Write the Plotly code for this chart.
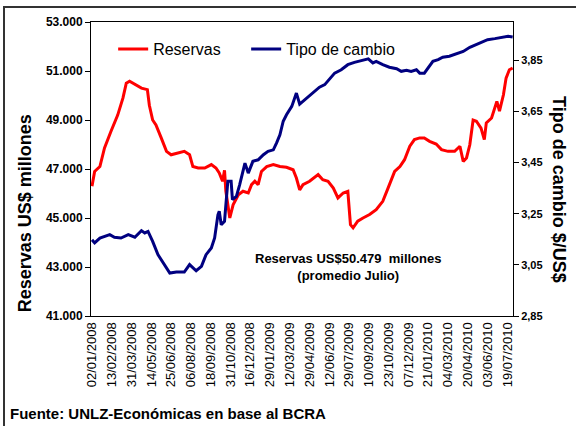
import plotly.graph_objects as go

# Etiquetas del eje de categorías (una cada 30 días hábiles)
fechas_eje = ["02/01/2008", "13/02/2008", "31/03/2008", "14/05/2008", "25/06/2008",
              "06/08/2008", "18/09/2008", "31/10/2008", "16/12/2008", "29/01/2009",
              "12/03/2009", "29/04/2009", "12/06/2009", "29/07/2009", "10/09/2009",
              "23/10/2009", "07/12/2009", "21/01/2010", "04/03/2010", "20/04/2010",
              "03/06/2010", "19/07/2010"]
dias_por_etiqueta = 30

# (día hábil, reservas en millones de US$)
reservas = [
    (0, 46300), (4, 46900), (12, 47100), (19, 47860), (29, 48550), (39, 49200),
    (47, 49900), (52, 50500), (57, 50580), (67, 50440), (75, 50300), (84, 50240),
    (87, 49600), (92, 49000), (97, 48800), (105, 48270), (113, 47720), (120, 47580),
    (130, 47650), (140, 47720), (148, 47580), (153, 47100), (161, 47040), (171, 47040),
    (181, 47180), (188, 47040), (193, 46840), (198, 46500), (201, 46950), (203, 46100),
    (209, 45000), (214, 45540), (222, 45950), (229, 46090), (237, 46020), (242, 46360),
    (247, 46500), (252, 46360), (257, 46900), (265, 47100), (275, 47180), (285, 47100),
    (295, 47070), (305, 46970), (310, 46630), (315, 46150), (320, 46360), (330, 46500),
    (343, 46770), (350, 46560), (358, 46500), (366, 46220), (373, 45820), (381, 46020),
    (388, 46090), (392, 44730), (396, 44600), (403, 44870), (411, 45000), (421, 45140),
    (431, 45340), (441, 45680), (449, 46220), (459, 46900), (467, 47100), (474, 47380),
    (482, 47930), (489, 48200), (497, 48270), (504, 48270), (512, 48130), (522, 48020),
    (530, 47790), (540, 47720), (550, 47720), (558, 47930), (563, 47310), (568, 47450),
    (573, 47990), (578, 49000), (583, 48950), (590, 48670), (595, 48200), (598, 48880),
    (606, 49080), (611, 49560), (614, 49760), (618, 49360), (624, 50030), (628, 50710),
    (633, 51050), (638, 51120),
]

# (día hábil, tipo de cambio $/US$)
tipo_cambio = [
    (0, 3.148), (4, 3.136), (12, 3.155), (19, 3.162), (27, 3.168), (34, 3.158),
    (44, 3.155), (55, 3.168), (65, 3.158), (75, 3.184), (80, 3.175), (85, 3.181),
    (92, 3.142), (100, 3.090), (108, 3.057), (118, 3.018), (128, 3.022), (140, 3.022),
    (148, 3.051), (158, 3.027), (166, 3.044), (173, 3.090), (181, 3.116), (186, 3.155),
    (191, 3.246), (193, 3.260), (196, 3.207), (201, 3.220), (206, 3.377), (211, 3.377),
    (213, 3.305), (219, 3.318), (224, 3.364), (232, 3.448), (237, 3.409), (244, 3.455),
    (252, 3.461), (260, 3.481), (267, 3.494), (275, 3.500), (280, 3.527), (285, 3.559),
    (290, 3.612), (295, 3.637), (303, 3.670), (308, 3.709), (310, 3.722), (315, 3.679),
    (323, 3.696), (330, 3.713), (338, 3.729), (345, 3.745), (353, 3.755), (361, 3.781),
    (368, 3.800), (378, 3.813), (388, 3.833), (398, 3.842), (409, 3.850), (419, 3.856),
    (426, 3.840), (431, 3.846), (441, 3.833), (451, 3.823), (462, 3.817), (469, 3.807),
    (477, 3.811), (484, 3.807), (492, 3.813), (497, 3.800), (504, 3.800), (512, 3.827),
    (517, 3.846), (525, 3.853), (532, 3.862), (542, 3.866), (553, 3.875), (563, 3.885),
    (573, 3.901), (583, 3.911), (593, 3.922), (600, 3.931), (611, 3.935), (621, 3.940),
    (631, 3.944), (638, 3.941),
]

nota = "Reservas US$50.479  millones<br>(promedio Julio)"
fuente = "Fuente: UNLZ-Económicas en base al BCRA"

FONT = "Liberation Sans, Arial, sans-serif"

dias_r = [d for d, _ in reservas]
val_r = [v for _, v in reservas]
dias_t = [d for d, _ in tipo_cambio]
val_t = [v for _, v in tipo_cambio]

fig = go.Figure()
fig.add_trace(go.Scatter(x=dias_r, y=val_r, name="Reservas", mode="lines",
                         legendwidth=88,
                         line=dict(color="#FF0000", width=3)))
fig.add_trace(go.Scatter(x=dias_t, y=val_t, name="Tipo de cambio", mode="lines",
                         yaxis="y2", line=dict(color="#000080", width=3)))

fig.update_layout(
    width=576, height=426,
    margin=dict(l=91, r=63, t=22, b=110, autoexpand=False),
    paper_bgcolor="white", plot_bgcolor="white",
    separators=",.",
    font=dict(family=FONT, color="black"),
    showlegend=True,
    legend=dict(orientation="h", x=0.0525, y=0.908, xanchor="left", yanchor="middle",
                font=dict(size=16, family=FONT), bgcolor="rgba(0,0,0,0)"),
    xaxis=dict(range=[-1.5, 638.5],
               tickvals=[i * dias_por_etiqueta for i in range(len(fechas_eje))],
               ticktext=fechas_eje, tickangle=-90, ticks="",
               tickfont=dict(size=13, family=FONT),
               showline=True, linecolor="black", linewidth=1, mirror=True,
               showgrid=False, zeroline=False),
    yaxis=dict(range=[41000, 53000], dtick=2000, tick0=41000, tickformat=",.0f",
               ticks="outside", ticklen=5, tickcolor="black",
               tickfont=dict(size=12, family=FONT, weight="bold"),
               showline=True, linecolor="black", linewidth=1,
               showgrid=False, zeroline=False),
    yaxis2=dict(range=[2.85, 4.0], dtick=0.2, tick0=2.85, tickformat=".2f",
                overlaying="y", side="right",
                ticks="outside", ticklen=5, tickcolor="black",
                tickfont=dict(size=11, family=FONT, weight="bold"),
                showline=True, linecolor="black", linewidth=1,
                showgrid=False, zeroline=False),
    annotations=[
        dict(text="Reservas US$ millones", xref="paper", yref="paper",
             x=-0.156, y=0.350, textangle=-90, showarrow=False,
             xanchor="center", yanchor="middle",
             font=dict(size=18, family=FONT, weight="bold")),
        dict(text="Tipo de cambio $/US$", xref="paper", yref="paper",
             x=1.109, y=0.4286, textangle=90, showarrow=False,
             xanchor="center", yanchor="middle",
             font=dict(size=18, family=FONT, weight="bold")),
        dict(text=nota, xref="paper", yref="paper", x=0.609, y=0.168,
             showarrow=False, xanchor="center", yanchor="middle", align="center",
             font=dict(size=13, family=FONT, weight="bold")),
        dict(text=fuente, xref="paper", yref="paper", x=-0.197, y=-0.330,
             showarrow=False, xanchor="left", yanchor="middle",
             font=dict(size=15, family=FONT, weight="bold")),
    ],
    shapes=[
        dict(type="rect", xref="paper", yref="paper",
             x0=(4 - 91) / 422, x1=(590 - 91) / 422,
             y0=(316 - 440) / 294, y1=(316 - 7) / 294,
             line=dict(color="#333333", width=2), fillcolor="rgba(0,0,0,0)",
             layer="below"),
    ],
)

fig.write_html("out.html", config={"displayModeBar": False},
               post_script="document.body.style.margin='0';")
